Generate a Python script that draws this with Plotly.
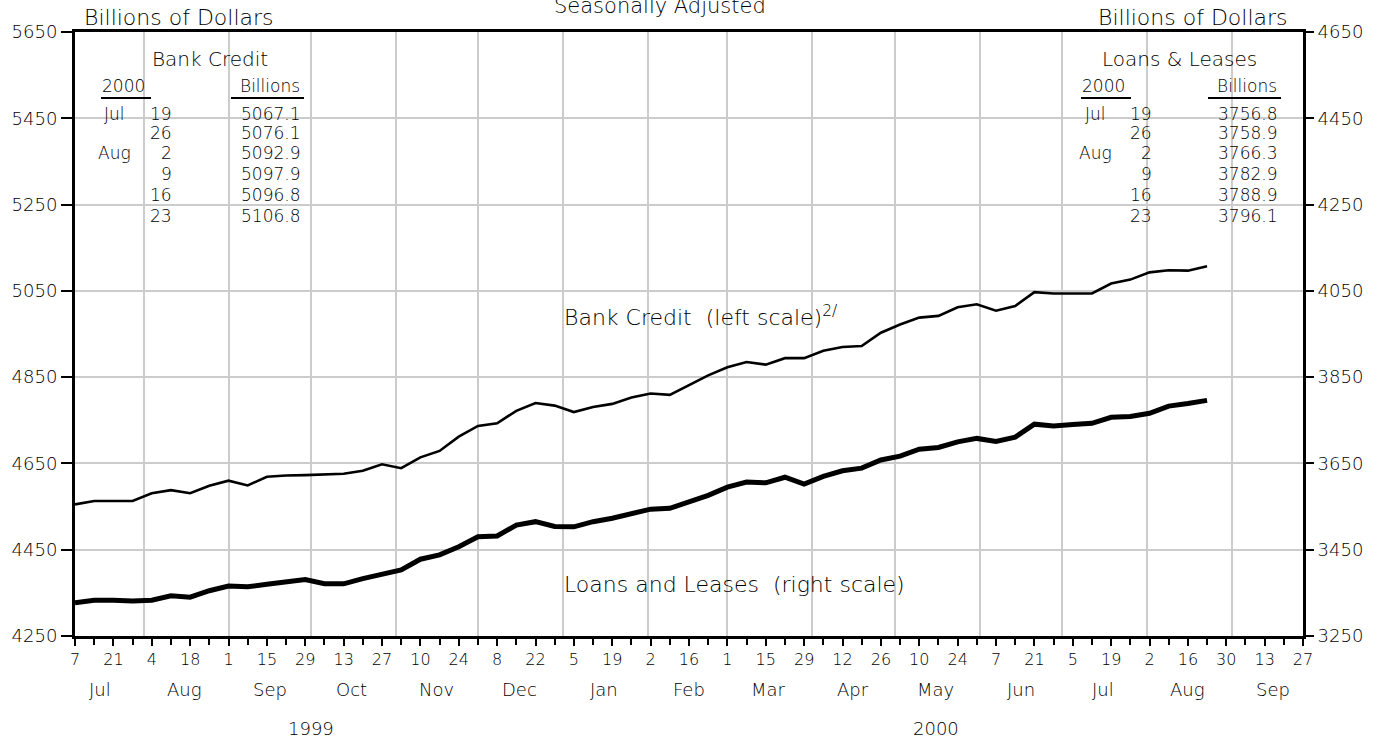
import plotly.graph_objects as go
import pandas as pd

# ---------------- data ----------------
start_date = "1999-07-07"          # first weekly observation (Wednesday)
bank_credit = [
    4555, 4563, 4563, 4563, 4581, 4588, 4581, 4598, 4610, 4599,
    4619, 4622, 4623, 4625, 4626, 4633, 4648, 4639, 4664, 4679,
    4712, 4737, 4743, 4772, 4790, 4784, 4769, 4781, 4788, 4803,
    4812, 4809, 4832, 4854, 4873, 4885, 4879, 4894, 4894, 4911,
    4920, 4922, 4953, 4972, 4988, 4992, 5012, 5019, 5004, 5015,
    5047, 5044, 5044, 5044, 5067.1, 5076.1, 5092.9, 5097.9, 5096.8, 5106.8,
]
loans_leases = [
    3327, 3333, 3333, 3331, 3333, 3343, 3340, 3355, 3366, 3364,
    3370, 3375, 3381, 3371, 3371, 3383, 3394, 3403, 3428, 3438,
    3457, 3480, 3482, 3507, 3515, 3504, 3503, 3515, 3523, 3534,
    3544, 3546, 3561, 3576, 3595, 3607, 3605, 3618, 3602, 3620,
    3633, 3639, 3658, 3667, 3683, 3687, 3700, 3708, 3701, 3711,
    3741, 3737, 3740, 3743, 3756.8, 3758.9, 3766.3, 3782.9, 3788.9, 3796.1,
]
table_months = ["Jul", "", "Aug", "", "", ""]
table_days = ["19", "26", "2", "9", "16", "23"]
month_names = ["Jul", "Aug", "Sep", "Oct", "Nov", "Dec", "Jan", "Feb",
               "Mar", "Apr", "May", "Jun", "Jul", "Aug", "Sep"]
year_labels = ["1999", "2000"]
year_positions = ["1999-10-01", "2000-05-16"]
left_range = [4250, 5650]
right_range = [3250, 4650]
axis_step = 200

dates = pd.date_range(start_date, periods=len(bank_credit), freq="7D")
week_ticks = pd.date_range(start_date, "2000-09-27", freq="7D")
label_ticks = week_ticks[::2]
label_text = [str(d.day) for d in label_ticks]
month_starts = pd.date_range("1999-07-01", "2000-09-01", freq="MS")
month_mid = month_starts + pd.Timedelta(days=15)

# ---------------- geometry helpers ----------------
W, H = 1387, 738
L, R, T, B = 75, 84, 32, 102
PW, PH = W - L - R, H - T - B


def px(X):
    return (X - L) / PW


def py(Y):
    return (H - B - Y) / PH


FONT = "DejaVu Sans"
INK = "black"
GRID = "#cccccc"

fig = go.Figure()
fig.add_trace(go.Scatter(x=dates, y=bank_credit, mode="lines",
                         line=dict(color=INK, width=2.6), yaxis="y",
                         name="Bank Credit"))
fig.add_trace(go.Scatter(x=dates, y=loans_leases, mode="lines",
                         line=dict(color=INK, width=5), yaxis="y2",
                         name="Loans and Leases"))
# invisible trace carrying the month-start gridlines axis
fig.add_trace(go.Scatter(x=[dates[0]], y=[bank_credit[0]], mode="markers",
                         marker=dict(opacity=0), xaxis="x2", yaxis="y",
                         hoverinfo="skip", showlegend=False))

annotations = []
shapes = []


def txt(X, Y, s, size=16, xanchor="center", yanchor="middle"):
    annotations.append(dict(x=px(X), y=py(Y), xref="paper", yref="paper",
                            text=s, showarrow=False, xanchor=xanchor,
                            yanchor=yanchor,
                            font=dict(family=FONT, size=size, color=INK,
                                      weight=300)))


def box(X0, Y0, X1, Y1):
    shapes.append(dict(type="rect", xref="paper", yref="paper",
                       x0=px(X0), x1=px(X1), y0=py(Y1), y1=py(Y0),
                       fillcolor="white", line=dict(width=0), layer="between"))


def hline(X0, X1, Y, w=2):
    shapes.append(dict(type="line", xref="paper", yref="paper",
                       x0=px(X0), x1=px(X1), y0=py(Y), y1=py(Y),
                       line=dict(color=INK, width=w), layer="above"))


# white boxes that interrupt the grid
box(75, 40, 325, 237)
box(1055, 43, 1303, 230)
box(522, 297, 880, 333)
box(522, 554, 945, 601)

# header texts
txt(82, 18, "Billions of Dollars", size=22, xanchor="left")
txt(1290, 18, "Billions of Dollars", size=22, xanchor="right")
txt(660, 6, "Seasonally Adjusted", size=21)

# curve labels
txt(700, 316, "Bank Credit  (left scale)<sup>2/</sup>", size=22)
txt(734, 584, "Loans and Leases  (right scale)", size=22)

# tables
row_y = [114, 133, 153, 174, 195, 216]


def table(title, title_x, x_year, x_mon, x_day, x_val, values):
    txt(title_x, 59, title, size=20)
    txt(x_year, 86, "2000", size=17, xanchor="left")
    hline(x_year + 1, x_year + 51, 98)
    txt(x_val, 86, "Billions", size=17, xanchor="right")
    hline(x_val - 71, x_val + 2, 98)
    for m, d, v, y in zip(table_months, table_days, values, row_y):
        if m:
            txt(x_mon, y, m, size=17)
        txt(x_day, y, d, size=17, xanchor="right")
        txt(x_val, y, f"{v:.1f}", size=17, xanchor="right")


table("Bank Credit", 210, 100, 114, 174, 302, bank_credit[-6:])
table("Loans & Leases", 1179, 1080, 1095, 1154, 1279, loans_leases[-6:])

# month and year labels under the axis
for d, m in zip(month_mid, month_names):
    annotations.append(dict(x=d, y=py(689), xref="x", yref="paper", text=m,
                            showarrow=False, xanchor="center",
                            yanchor="middle",
                            font=dict(family=FONT, size=18, color=INK,
                                      weight=300)))
for d, yl in zip(year_positions, year_labels):
    annotations.append(dict(x=d, y=py(728), xref="x", yref="paper", text=yl,
                            showarrow=False, xanchor="center",
                            yanchor="middle",
                            font=dict(family=FONT, size=18, color=INK,
                                      weight=300)))

ticks_left = list(range(left_range[0], left_range[1] + 1, axis_step))
ticks_right = list(range(right_range[0], right_range[1] + 1, axis_step))
xrange_ = [week_ticks[0], week_ticks[-1]]

fig.update_layout(
    width=W, height=H,
    margin=dict(l=L, r=R, t=T, b=B, pad=0),
    paper_bgcolor="white", plot_bgcolor="white",
    showlegend=False,
    font=dict(family=FONT, color=INK),
    xaxis=dict(
        type="date", range=xrange_,
        tickmode="array", tickvals=label_ticks, ticktext=label_text,
        ticks="outside", ticklen=7, tickwidth=1.5, tickcolor=INK,
        tickfont=dict(family=FONT, size=16, color=INK, weight=300),
        showgrid=False, zeroline=False,
        showline=True, linewidth=3, linecolor=INK, mirror=True,
        minor=dict(tickmode="array", tickvals=week_ticks, ticks="outside",
                   ticklen=6, tickwidth=1.5, tickcolor=INK, showgrid=False),
    ),
    xaxis2=dict(
        type="date", range=xrange_, overlaying="x", matches="x",
        tickmode="array", tickvals=month_starts[1:],
        showticklabels=False, ticks="",
        showgrid=True, gridcolor=GRID, gridwidth=1.5, zeroline=False,
        showline=False,
    ),
    yaxis=dict(
        range=left_range, tickmode="array", tickvals=ticks_left,
        ticks="outside", ticklen=11, tickwidth=1.5, tickcolor=INK,
        tickfont=dict(family=FONT, size=18, color=INK, weight=300),
        showgrid=True, gridcolor=GRID, gridwidth=1.5, zeroline=False,
        showline=True, linewidth=3, linecolor=INK,
    ),
    yaxis2=dict(
        range=right_range, tickmode="array", tickvals=ticks_right,
        overlaying="y", side="right",
        ticks="outside", ticklen=8, tickwidth=1.5, tickcolor=INK,
        tickfont=dict(family=FONT, size=18, color=INK, weight=300),
        showgrid=False, zeroline=False,
        showline=True, linewidth=3, linecolor=INK,
    ),
    annotations=annotations,
    shapes=shapes,
)

fig.write_html("out.html",
               config={"displayModeBar": False},
               post_script="document.body.style.margin='0px';")
